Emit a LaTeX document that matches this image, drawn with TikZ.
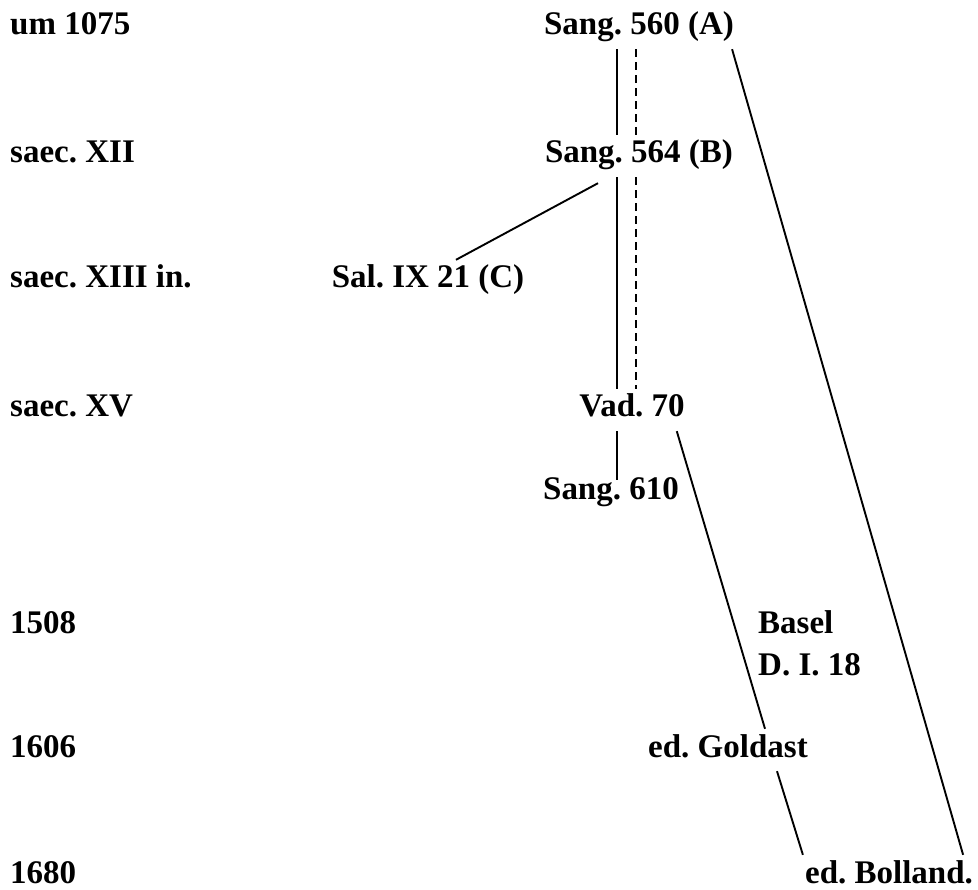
\documentclass[tikz,border=0pt]{standalone}
\usepackage{fontspec}
\setmainfont{Liberation Serif}
\usepackage{tikz}
\usetikzlibrary{arrows, shapes}
\frenchspacing

\begin{document}
\begin{tikzpicture}[x=1pt, y=-1pt]
    \tikzstyle{every node} = [font=\fontsize{33}{39}\selectfont\bfseries, inner xsep=0pt, inner ysep=6pt, text height=22pt, text depth=8pt, anchor=base]
    \tikzstyle{date} = [anchor=base west]
    \tikzstyle{link} = [line width=1.9pt]
    \tikzstyle{maybe} = [line width=1.9pt, dash pattern=on 8pt off 5pt]
    \useasboundingbox (0, 0) rectangle (978, 890);
    % dates
    \node (d1) [date] at (10, 35) {um 1075};
    \node (d2) [date] at (10, 163) {saec. XII};
    \node (d3) [date] at (10, 288) {saec. XIII in.};
    \node (d4) [date] at (10, 417) {saec. XV};
    \node (d5) [date] at (10, 633) {1508};
    \node (d6) [date] at (10, 757) {1606};
    \node (d7) [date] at (10, 883) {1680};
    % witnesses
    \node (a) at (639, 35) {Sang. 560 (A)};
    \node (b) at (639, 163) {Sang. 564 (B)};
    \node (c) at (428, 288) {Sal. IX 21 (C)};
    \node (vad) at (632, 417) {Vad. 70};
    \node (s610) at (611, 500) {Sang. 610};
    \node (basel) [anchor=base west] at (758, 633) {Basel};
    \node (baselsig) [anchor=base west] at (758, 675) {D. I. 18};
    \node (goldast) at (728, 757) {ed. Goldast};
    \node (bolland) at (889, 883) {ed. Bolland.};
    % lines
    \draw [link] ([xshift=-22pt]a.south) -- ([xshift=-22pt]b.north);
    \draw [maybe] ([xshift=-3pt]a.south) -- ([xshift=-3pt]b.north);
    \draw [link] ([xshift=-2pt]a.south east) -- ([xshift=-10pt]bolland.north east);
    \draw [link] ([xshift=-41pt, yshift=-6pt]b.south) -- ([xshift=28pt]c.north);
    \draw [link] ([xshift=-22pt]b.south) -- ([xshift=-22pt]b.south |- vad.north);
    \draw [maybe] ([xshift=-3pt]b.south) -- ([xshift=-3pt]b.south |- vad.north);
    \draw [link] ([xshift=-15pt]vad.south) -- ([xshift=-15pt, yshift=-8pt]vad.south |- s610.north);
    \draw [link] ([xshift=-8pt]vad.south east) -- ([xshift=37pt]goldast.north);
    \draw [link] ([xshift=49pt]goldast.south) -- ([xshift=-2pt]bolland.north west);
\end{tikzpicture}
\end{document}
